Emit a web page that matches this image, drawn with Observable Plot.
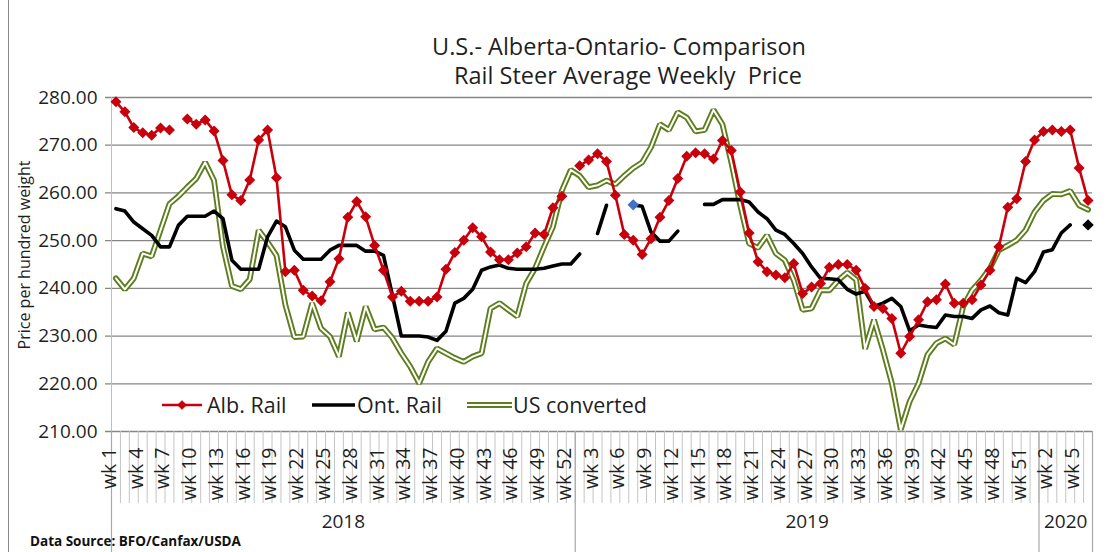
<!DOCTYPE html>
<html><head><meta charset="utf-8">
<script src="https://cdn.jsdelivr.net/npm/d3@7"></script>
<script src="https://cdn.jsdelivr.net/npm/@observablehq/plot@0.6"></script>
<style>
body{margin:0;background:#fff;}
#wrap{position:relative;width:1106px;height:552px;overflow:hidden;background:#fff;font-family:"Open Sans",sans-serif;}
#wrap > svg{position:absolute;left:0;top:0;}
</style></head><body><div id="wrap"></div>
<script>
// ---- data ----
const years = ["2018", "2019", "2020"];
const weeksPerYear = [52, 52, 6];
const yTicks = [210, 220, 230, 240, 250, 260, 270, 280];
const seriesNames = ["Alb. Rail", "Ont. Rail", "US converted"];

const albRail = [
  279.1, 277.0, 273.7, 272.6, 272.1, 273.6, 273.2, null, 275.5, 274.4,
  275.3, 273.0, 266.8, 259.6, 258.4, 262.7, 271.1, 273.2, 263.2, 243.5,
  243.8, 239.6, 238.4, 237.4, 241.4, 246.2, 254.9, 258.2, 255.0, 249.0,
  243.8, 238.2, 239.4, 237.3, 237.3, 237.3, 238.2, 244.0, 247.5, 250.1,
  252.7, 250.8, 247.6, 246.0, 246.0, 247.4, 248.7, 251.6, 251.3, 256.9,
  259.3, null, 265.7, 266.9, 268.2, 266.6, 259.5, 251.3, 250.1, 247.1,
  250.4, 254.9, 258.4, 263.0, 267.7, 268.4, 268.2, 267.1, 271.0, 268.9,
  260.2, 251.6, 245.6, 243.5, 242.8, 242.2, 245.2, 238.9, 240.3, 241.0,
  244.4, 245.0, 245.0, 243.8, 240.0, 236.2, 235.8, 233.7, 226.4, 229.9,
  233.4, 237.2, 237.6, 240.9, 236.9, 236.9, 237.6, 240.7, 243.8, 248.7,
  257.0, 258.8, 266.6, 271.1, 272.9, 273.2, 272.9, 273.2, 265.2, 258.4
];
const ontRail = [
  256.7, 256.2, 253.9, 252.5, 251.1, 248.7, 248.7, 253.2, 255.1, 255.1,
  255.1, 256.2, 254.6, 245.9, 244.0, 244.0, 244.0, 250.8, 254.1, 252.9,
  248.0, 246.1, 246.1, 246.1, 248.0, 249.0, 249.0, 249.0, 247.8, 247.8,
  246.9, 238.5, 230.0, 230.0, 230.0, 229.8, 229.1, 231.0, 236.9, 237.9,
  239.8, 243.8, 244.5, 244.9, 244.2, 244.0, 244.0, 244.0, 244.2, 244.7,
  245.1, 245.1, 247.2, null, 251.5, 257.4, null, null, 257.5, 257.2,
  251.8, 249.9, 249.9, 252.0, null, null, 257.6, 257.6, 258.6, 258.6,
  258.6, 258.1, 256.0, 254.6, 252.2, 251.3, 249.4, 247.3, 244.5, 242.1,
  242.0, 241.8, 239.8, 238.8, 239.4, 236.2, 236.9, 237.9, 236.2, 231.1,
  232.3, 232.0, 231.8, 234.4, 234.1, 234.1, 233.7, 235.5, 236.3, 234.9,
  234.4, 242.1, 241.2, 243.5, 247.6, 248.1, 251.6, 253.3, null, 253.3
];
const usConverted = [
  242.1, 239.8, 242.1, 247.3, 246.7, 252.2, 257.7, 259.3, 261.2, 263.0,
  266.4, 262.6, 248.7, 240.5, 239.8, 241.9, 252.2, 249.7, 246.9, 236.5,
  229.8, 229.9, 236.9, 231.6, 229.9, 225.7, 234.9, 228.9, 236.2, 231.4,
  231.8, 229.6, 226.4, 223.6, 220.1, 224.6, 227.4, 226.4, 225.4, 224.6,
  225.7, 226.4, 235.8, 236.9, 235.5, 234.1, 241.0, 244.2, 248.7, 252.9,
  260.5, 264.8, 263.6, 261.2, 261.6, 262.6, 261.8, 263.6, 265.2, 266.4,
  269.6, 274.4, 273.2, 276.9, 275.8, 272.9, 273.2, 277.4, 274.4, 266.4,
  257.4, 249.4, 248.5, 251.1, 247.3, 245.9, 241.7, 235.5, 235.8, 239.6,
  239.6, 241.7, 243.3, 241.8, 227.3, 233.4, 227.1, 220.1, 210.4, 216.3,
  220.1, 226.1, 228.5, 229.5, 228.2, 236.2, 239.6, 241.7, 244.2, 248.0,
  249.0, 250.1, 252.2, 256.0, 258.4, 259.8, 259.7, 260.4, 257.4, 256.5
];
const ontHighlighted = [58]; // point drawn with a blue marker

// ---- derived ----
const categories = [];
years.forEach((yr, k) => { for (let w = 1; w <= weeksPerYear[k]; w++) categories.push({year: yr, label: "wk " + w}); });
const n = categories.length;
const idx = d3.range(n);
const num = v => (v == null ? NaN : v);
const rows = idx.map(i => ({i, alb: num(albRail[i]), ont: num(ontRail[i]), us: num(usConverted[i])}));
const labelIdx = idx.filter(i => i % 3 === 0);
const bounds = d3.range(n + 1).map(b => b - 0.5);
const yearStarts = d3.cumsum([0, ...weeksPerYear]);
const yearBounds = Array.from(yearStarts, s => s - 0.5);
const yearMids = years.map((yr, k) => ({yr, m: (yearStarts[k] + yearStarts[k + 1]) / 2 - 0.5}));
const ontIsolated = idx.filter(i => ontRail[i] != null && ontRail[i - 1] == null && ontRail[i + 1] == null);

const W = 1106, H = 552, mt = 97, mb = 121, ml = 111, mr = 14;
const frameH = H - mt - mb;
const RED = "#C8000C", BLACK = "#000000", GREEN = "#5E7D1C", GRID = "#868686", TXT = "#1f1f1f";

const chart = Plot.plot({
  width: W, height: H,
  marginTop: mt, marginBottom: mb, marginLeft: ml, marginRight: mr,
  style: {fontFamily: "Open Sans, sans-serif", background: "transparent", overflow: "visible"},
  x: {domain: [-0.5, n - 0.5], axis: null},
  y: {domain: [210, 280], axis: null},
  marks: [
    Plot.ruleY(yTicks, {y: d => d, stroke: GRID, strokeWidth: 1.3, insetLeft: -6}),
    Plot.ruleX([-0.5], {stroke: "#bfbfbf", strokeWidth: 1}),
    Plot.text(yTicks, {y: d => d, text: d => d.toFixed(2), frameAnchor: "left", textAnchor: "end", dx: -14, fontSize: 19, fill: TXT}),
    Plot.ruleX(bounds, {x: d => d, stroke: "#c4c4c4", strokeWidth: 1, insetTop: frameH, insetBottom: -72}),
    Plot.ruleX(yearBounds, {x: d => d, stroke: "#a8a8a8", strokeWidth: 1.2, insetTop: frameH, insetBottom: -mb}),
    Plot.text(labelIdx, {x: d => d, text: d => categories[d].label, frameAnchor: "bottom", rotate: -90, textAnchor: "end", dy: 16, fontSize: 19.5, fill: TXT}),
    Plot.text(yearMids, {x: "m", text: "yr", frameAnchor: "bottom", dy: 96, fontSize: 19, fill: TXT}),
    Plot.line(rows, {x: "i", y: "us", stroke: GREEN, strokeWidth: 5.8, strokeLinejoin: "miter"}),
    Plot.line(rows, {x: "i", y: "us", stroke: "#ffffff", strokeWidth: 2}),
    Plot.line(rows, {x: "i", y: "ont", stroke: BLACK, strokeWidth: 3.6}),
    Plot.dot(ontIsolated, {x: d => d, y: d => ontRail[d], symbol: "diamond2", r: 4.2, fill: BLACK, stroke: BLACK}),
    Plot.dot(ontHighlighted, {x: d => d, y: d => ontRail[d], symbol: "diamond2", r: 4.2, fill: "#4472C4", stroke: "#4472C4"}),
    Plot.line(rows, {x: "i", y: "alb", stroke: RED, strokeWidth: 2.6}),
    Plot.dot(rows.filter(r => !isNaN(r.alb)), {x: "i", y: "alb", symbol: "diamond2", r: 4, fill: RED, stroke: RED})
  ]
});
const wrap = document.getElementById("wrap");
wrap.appendChild(chart);

// ---- overlay: titles, axis title, legend, source ----
const ov = d3.select(wrap).append("svg").attr("width", W).attr("height", H)
  .style("pointer-events", "none").style("font-family", "Open Sans, sans-serif");
ov.append("line").attr("x1", 8.5).attr("x2", 8.5).attr("y1", 0).attr("y2", H).attr("stroke", "#8a8a8a").attr("stroke-width", 1);
ov.append("text").attr("x", 619).attr("y", 55).attr("text-anchor", "middle").attr("font-size", 23.5).attr("fill", TXT)
  .text("U.S.- Alberta-Ontario- Comparison");
ov.append("text").attr("x", 628).attr("y", 84).attr("text-anchor", "middle").attr("font-size", 23.5).attr("fill", TXT)
  .style("white-space", "pre").attr("xml:space", "preserve").text("Rail Steer Average Weekly  Price");
ov.append("text").attr("transform", "translate(30,255) rotate(-90)").attr("text-anchor", "middle").attr("font-size", 16).attr("fill", TXT)
  .text("Price per hundred weight");
ov.append("text").attr("x", 30).attr("y", 546).attr("font-size", 13.5).attr("font-weight", "bold").attr("fill", "#111")
  .text("Data Source: BFO/Canfax/USDA");

// legend
const ly = 405;
const leg = ov.append("g");
leg.append("line").attr("x1", 162).attr("x2", 202).attr("y1", ly).attr("y2", ly).attr("stroke", RED).attr("stroke-width", 2.6);
leg.append("path").attr("d", d3.symbol(d3.symbolDiamond2, 48)()).attr("transform", `translate(182,${ly})`).attr("fill", RED).attr("stroke", RED);
leg.append("text").attr("x", 207).attr("y", ly + 8).attr("font-size", 21.5).attr("fill", TXT).text(seriesNames[0]);
leg.append("line").attr("x1", 312).attr("x2", 355).attr("y1", ly).attr("y2", ly).attr("stroke", BLACK).attr("stroke-width", 3.6);
leg.append("text").attr("x", 357).attr("y", ly + 8).attr("font-size", 21.5).attr("fill", TXT).text(seriesNames[1]);
leg.append("line").attr("x1", 467).attr("x2", 512).attr("y1", ly).attr("y2", ly).attr("stroke", GREEN).attr("stroke-width", 5.8);
leg.append("line").attr("x1", 467).attr("x2", 512).attr("y1", ly).attr("y2", ly).attr("stroke", "#fff").attr("stroke-width", 2);
leg.append("text").attr("x", 513).attr("y", ly + 8).attr("font-size", 21.5).attr("fill", TXT).text(seriesNames[2]);
</script></body></html>
